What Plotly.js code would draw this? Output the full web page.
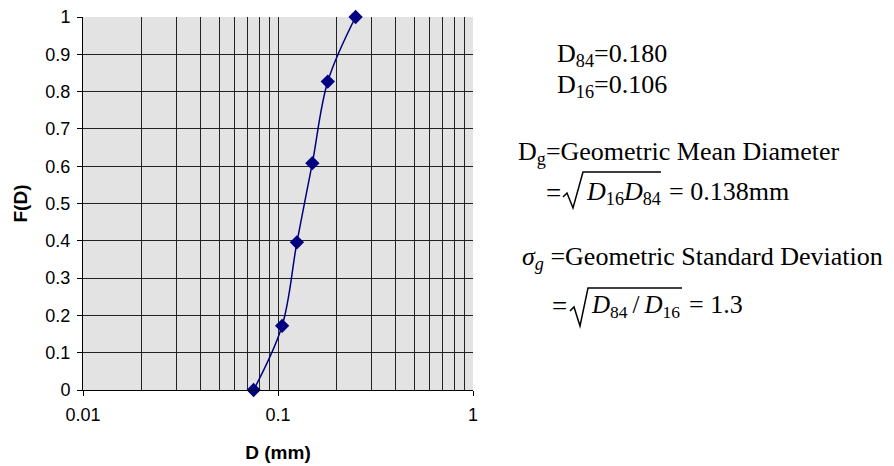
<!DOCTYPE html>
<html>
<head>
<meta charset="utf-8">
<script src="https://cdn.plot.ly/plotly-3.0.1.min.js"></script>
<style>
  html, body { margin: 0; padding: 0; background: #ffffff; }
  #chart { width: 894px; height: 466px; }
</style>
</head>
<body>
<div id="chart"></div>
<script>
// Cumulative grain-size distribution
const diameterMm = [0.075, 0.105, 0.125, 0.150, 0.180, 0.250];
const cumulativeF = [0.000, 0.172, 0.396, 0.608, 0.827, 1.000];

// Log-axis tick labels (decades) and the in-between grid positions
const xTickVals = [0.01, 0.1, 1];
const xTickText = ['0.01', '0.1', '1'];
const xMinorVals = [0.02, 0.03, 0.04, 0.05, 0.06, 0.07, 0.08, 0.09,
                    0.2, 0.3, 0.4, 0.5, 0.6, 0.7, 0.8, 0.9];

// Summary statistics shown beside the chart
const d84 = '0.180';
const d16 = '0.106';
const dg = '0.138';
const sigmaG = '1.3';

// Plot frame in pixels (used to place the side notes)
const W = 894, H = 466;
const L = 83, R = 473, T = 17, B = 390;
const px = x => (x - L) / (R - L);
const py = y => (B - y) / (B - T);

const serif = 'Liberation Serif, Times New Roman, serif';
const sans = 'Liberation Sans, Arial, sans-serif';

function note(text, x, y, size) {
  return {
    text: text, xref: 'paper', yref: 'paper',
    x: px(x), y: py(y), xanchor: 'left', yanchor: 'middle',
    showarrow: false, borderpad: 0,
    font: { family: serif, size: size || 26, color: '#000000' }
  };
}

function radical(pts) {
  let d = '';
  pts.forEach((p, i) => { d += (i ? ' L ' : 'M ') + px(p[0]).toFixed(5) + ' ' + py(p[1]).toFixed(5); });
  return {
    type: 'path', xref: 'paper', yref: 'paper', path: d,
    line: { color: '#000000', width: 1.5 }, layer: 'above'
  };
}

const trace = {
  x: diameterMm, y: cumulativeF,
  type: 'scatter', mode: 'lines+markers',
  line: { color: '#000080', width: 1.5, shape: 'spline', smoothing: 1 },
  marker: { symbol: 'diamond', size: 11, color: '#000080' },
  cliponaxis: false,
  hoverinfo: 'x+y'
};

const thin = '\u2009';

const layout = {
  width: W, height: H,
  margin: { l: L, r: W - R, t: T, b: H - B, pad: 0 },
  paper_bgcolor: '#ffffff',
  plot_bgcolor: '#e3e3e3',
  showlegend: false,
  font: { family: sans, size: 18, color: '#000000' },
  xaxis: {
    type: 'log', range: [-2, 0],
    tickmode: 'array', tickvals: xTickVals, ticktext: xTickText,
    ticks: 'outside', ticklen: 5, tickcolor: '#000000',
    ticklabelstandoff: 3,
    showgrid: true, gridcolor: '#222222', gridwidth: 1,
    minor: { tickmode: 'array', tickvals: xMinorVals, ticks: '', showgrid: true, gridcolor: '#222222', gridwidth: 1 },
    showline: true, linecolor: '#000000', linewidth: 1,
    zeroline: false, automargin: false,
    tickfont: { family: sans, size: 18 },
    title: { text: '<b>D (mm)</b>', font: { family: sans, size: 19 }, standoff: 22 }
  },
  yaxis: {
    range: [0, 1], dtick: 0.1, tick0: 0,
    ticks: 'outside', ticklen: 5, tickcolor: '#000000',
    ticklabelstandoff: 3,
    showgrid: true, gridcolor: '#222222', gridwidth: 1,
    showline: true, linecolor: '#000000', linewidth: 1,
    zeroline: false, automargin: false,
    tickfont: { family: sans, size: 18 },
    title: { text: '<b>F(D)</b>', font: { family: sans, size: 19 }, standoff: 12 }
  },
  annotations: [
    note('D<sub>84</sub>=' + d84, 556, 55),
    note('D<sub>16</sub>=' + d16, 556, 86),
    note('D<sub>g</sub>=Geometric Mean Diameter', 517, 153),
    note('=', 545, 193, 27),
    note('<i>D</i><sub>16</sub><i>D</i><sub>84</sub>', 585, 193, 26),
    note('= ' + dg + 'mm', 668, 191, 26),
    note('<i>σ</i><sub><i>g</i></sub> =Geometric Standard Deviation', 521, 258),
    note('=', 551, 306, 27),
    note('<i>D</i><sub>84</sub>' + thin + '/' + thin + '<i>D</i><sub>16</sub>', 590, 306, 25),
    note('= ' + sigmaG, 688, 304, 26)
  ],
  shapes: [
    radical([[563, 197], [567, 193], [573, 208], [583, 172], [661, 172]]),
    radical([[570, 311], [574, 307], [580, 326], [588, 288], [682, 288]])
  ]
};

Plotly.newPlot('chart', [trace], layout, { displayModeBar: false, staticPlot: true });
</script>
</body>
</html>
